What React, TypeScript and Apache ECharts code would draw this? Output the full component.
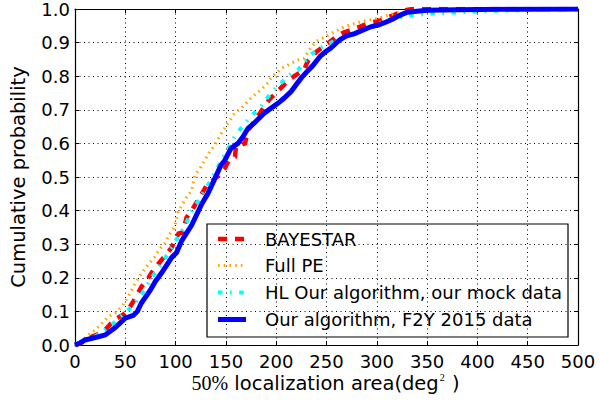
import React, { useEffect, useRef } from "react";
import * as echarts from "echarts";

// Cumulative distributions of the 50% localization area, [area (deg²), probability]
const bayestar: [number, number][] = [
  [0, 0], [5, 0.005], [10, 0.012], [17, 0.025], [25, 0.035], [30, 0.045], [36, 0.065],
  [42, 0.08], [48, 0.09], [53, 0.105], [58, 0.13], [62, 0.15], [66, 0.173], [71, 0.19],
  [76, 0.214], [81, 0.235], [86, 0.253], [91, 0.27], [96, 0.29], [99, 0.31], [103, 0.332],
  [107, 0.335], [111, 0.38], [117, 0.405], [122, 0.43], [127, 0.455], [131, 0.476],
  [137, 0.49], [143, 0.505], [149, 0.526], [153, 0.55], [156, 0.555], [159, 0.56],
  [160, 0.59], [165, 0.595], [169, 0.6], [172, 0.64], [176, 0.655], [180, 0.675],
  [184, 0.69], [188, 0.71], [193, 0.73], [198, 0.745], [203, 0.76], [208, 0.775],
  [213, 0.79], [218, 0.8], [223, 0.81], [228, 0.82], [231, 0.843], [236, 0.86],
  [240, 0.873], [250, 0.895], [261, 0.92], [267, 0.93], [274, 0.937], [283, 0.947],
  [291, 0.957], [298, 0.962], [304, 0.967], [310, 0.975], [317, 0.982], [321, 0.987],
  [324, 0.992], [328, 0.996], [334, 0.999], [350, 1.0], [500, 1.0],
];

const fullPE: [number, number][] = [
  [0, 0], [5, 0.008], [13.5, 0.03], [20, 0.045], [27, 0.065], [33, 0.084], [40, 0.095],
  [46.5, 0.114], [52, 0.14], [56.4, 0.164], [61, 0.19], [66, 0.213], [73, 0.24],
  [79.5, 0.263], [84, 0.285], [89.4, 0.303], [94, 0.33], [99, 0.352], [102.6, 0.397],
  [107, 0.42], [111, 0.44], [116, 0.46], [119, 0.505], [124, 0.525], [129, 0.55],
  [134, 0.575], [139, 0.595], [145.5, 0.63], [152, 0.66], [158.7, 0.69], [163, 0.7],
  [168.6, 0.714], [173, 0.73], [178.5, 0.744], [185, 0.76], [191.8, 0.78], [196, 0.8],
  [201.7, 0.813], [206, 0.825], [211.6, 0.833], [216, 0.84], [221.5, 0.848], [228, 0.853],
  [232, 0.875], [236, 0.89], [239.6, 0.903], [250, 0.92], [260, 0.935], [267.6, 0.947],
  [276, 0.955], [284, 0.962], [292, 0.967], [300.7, 0.972], [310, 0.98], [320, 0.989],
  [330, 0.992], [340, 0.994], [360, 0.996], [384, 0.998], [420, 1.0], [500, 1.0],
];

const hlMock: [number, number][] = [
  [0, 0], [10, 0.012], [20, 0.025], [30, 0.045], [36.6, 0.06], [44, 0.08], [51.5, 0.1],
  [58, 0.12], [64.7, 0.144], [70, 0.17], [76, 0.2], [81, 0.22], [86, 0.243], [92, 0.27],
  [97.7, 0.298], [103, 0.325], [109, 0.352], [113, 0.38], [117.5, 0.407], [123, 0.43],
  [129, 0.46], [134, 0.485], [139, 0.512], [144, 0.54], [149, 0.567], [154, 0.595],
  [158.7, 0.62], [165, 0.645], [172, 0.67], [178, 0.69], [185, 0.71], [191, 0.735],
  [198, 0.76], [205, 0.78], [211.6, 0.8], [216, 0.81], [221.5, 0.818], [225, 0.83],
  [228, 0.843], [235, 0.865], [243, 0.883], [252, 0.897], [261, 0.908], [274, 0.922],
  [287.4, 0.9375], [299, 0.952], [310.6, 0.967], [323, 0.975], [337, 0.982],
  [356.7, 0.987], [380, 0.99], [420, 0.995], [460, 0.998], [500, 1.0],
];

const f2y2015: [number, number][] = [
  [0, 0], [5, 0.006], [10, 0.015], [20, 0.022], [30, 0.03], [40, 0.052], [50, 0.08],
  [58, 0.088], [62, 0.1], [66, 0.125], [75, 0.164], [80, 0.19], [86, 0.214], [96, 0.26],
  [101, 0.275], [106, 0.31], [116, 0.357], [126, 0.42], [132, 0.45], [139, 0.495],
  [145, 0.535], [149, 0.55], [155, 0.585], [162, 0.6], [167, 0.62], [172, 0.645],
  [178, 0.66], [183, 0.675], [188, 0.69], [195, 0.705], [202, 0.72], [208, 0.735],
  [215, 0.755], [220, 0.775], [225, 0.795], [231, 0.815], [236, 0.83], [244, 0.86],
  [250, 0.875], [254, 0.883], [260, 0.9], [264, 0.91], [270, 0.92], [278, 0.927],
  [286, 0.937], [294, 0.947], [302, 0.953], [310, 0.962], [316, 0.97], [320, 0.977],
  [325, 0.984], [330, 0.99], [340, 0.993], [350, 0.996], [380, 0.998], [420, 0.999],
  [500, 1.0],
];

const legendNames = [
  "BAYESTAR",
  "Full PE",
  "HL Our algorithm, our mock data",
  "Our algorithm, F2Y 2015 data",
];

const colors = ["#ff0000", "#ffa500", "#00ffff", "#0000ff"];
const widths = [4.5, 3, 4, 5];
const dashes: (number[] | "solid")[] = [[9, 8], [1.6, 4.1], [4.5, 7.5, 1.7, 7.5], "solid"];

const FONT = "DejaVu Sans";

export default function App() {
  const ref = useRef<HTMLDivElement>(null);

  useEffect(() => {
    if (!ref.current) return;
    const chart = echarts.init(ref.current, null, { renderer: "svg" });

    const datasets = [bayestar, fullPE, hlMock, f2y2015];

    const tick = { show: true, inside: true, length: 4, lineStyle: { color: "#000", width: 1 } };
    const axisLine = { show: true, onZero: false, lineStyle: { color: "#000", width: 1.2 } };
    const grid = { show: true, lineStyle: { color: "#000", width: 1, type: [1, 3.5] } };

    // Legend box with sample strokes, drawn as graphic elements
    const legendX = 207;
    const legendY = 224;
    const rowY = [239, 265.5, 292.5, 319.5];
    const legendItems: any[] = [
      {
        type: "rect",
        shape: { x: legendX, y: legendY, width: 361, height: 113 },
        style: { fill: "none", stroke: "#000", lineWidth: 1.2 },
        z: 100,
      },
    ];
    legendNames.forEach((name, i) => {
      const dash = dashes[i];
      legendItems.push({
        type: "line",
        shape: { x1: 218, y1: rowY[i], x2: 246, y2: rowY[i] },
        style: {
          stroke: colors[i],
          lineWidth: widths[i],
          lineDash: dash === "solid" ? null : dash,
        },
        z: 100,
      });
      legendItems.push({
        type: "text",
        x: 265,
        y: rowY[i],
        style: {
          text: name,
          fill: "#000",
          font: `18px "${FONT}"`,
          verticalAlign: "middle",
          align: "left",
        },
        z: 100,
      });
    });

    // Axis title under the plot: serif "50%" followed by sans text and a raised "2"
    const xTitleY = 383;
    legendItems.push({
      type: "text",
      x: 325.5,
      y: xTitleY,
      style: {
        text: "{s|50%}{n| localization area(deg}{sup|2}{n| )}",
        align: "center",
        verticalAlign: "middle",
        rich: {
          s: { fontFamily: "Liberation Serif", fontSize: 20, fill: "#000", lineHeight: 22 },
          n: { fontFamily: FONT, fontSize: 19.5, fill: "#000", lineHeight: 22 },
          sup: {
            fontFamily: "Liberation Serif",
            fontSize: 10,
            fill: "#000",
            lineHeight: 22,
            verticalAlign: "top",
            padding: [0, 1, 0, 1],
          },
        },
      },
    });

    chart.setOption({
      animation: false,
      backgroundColor: "#fff",
      grid: { left: 73, right: 22, top: 9, bottom: 57, containLabel: false },
      xAxis: [
        {
          type: "value",
          min: 0,
          max: 500,
          interval: 50,
          position: "bottom",
          axisLine,
          axisTick: tick,
          splitLine: grid,
          axisLabel: { color: "#000", fontFamily: FONT, fontSize: 18, margin: 7 },
        },
        {
          type: "value",
          min: 0,
          max: 500,
          interval: 50,
          position: "top",
          axisLine,
          axisTick: tick,
          splitLine: { show: false },
          axisLabel: { show: false },
        },
      ],
      yAxis: [
        {
          type: "value",
          min: 0,
          max: 1,
          interval: 0.1,
          position: "left",
          axisLine,
          axisTick: tick,
          splitLine: grid,
          axisLabel: {
            color: "#000",
            fontFamily: FONT,
            fontSize: 18,
            margin: 5,
            formatter: (v: number) => v.toFixed(1),
          },
          name: "Cumulative probability",
          nameLocation: "middle",
          nameGap: 47,
          nameTextStyle: { color: "#000", fontFamily: FONT, fontSize: 19.5 },
        },
        {
          type: "value",
          min: 0,
          max: 1,
          interval: 0.1,
          position: "right",
          axisLine,
          axisTick: tick,
          splitLine: { show: false },
          axisLabel: { show: false },
        },
      ],
      series: datasets.map((data, i) => ({
        type: "line",
        name: legendNames[i],
        data,
        xAxisIndex: 0,
        yAxisIndex: 0,
        showSymbol: false,
        symbol: "none",
        smooth: false,
        z: 2 + i,
        lineStyle: {
          color: colors[i],
          width: widths[i],
          type: dashes[i],
          cap: "butt",
          join: "miter",
        },
      })),
      graphic: legendItems,
    });

    return () => chart.dispose();
  }, []);

  return (
    <div
      ref={ref}
      style={{ position: "absolute", left: 0, top: 0, width: 600, height: 402 }}
    />
  );
}
